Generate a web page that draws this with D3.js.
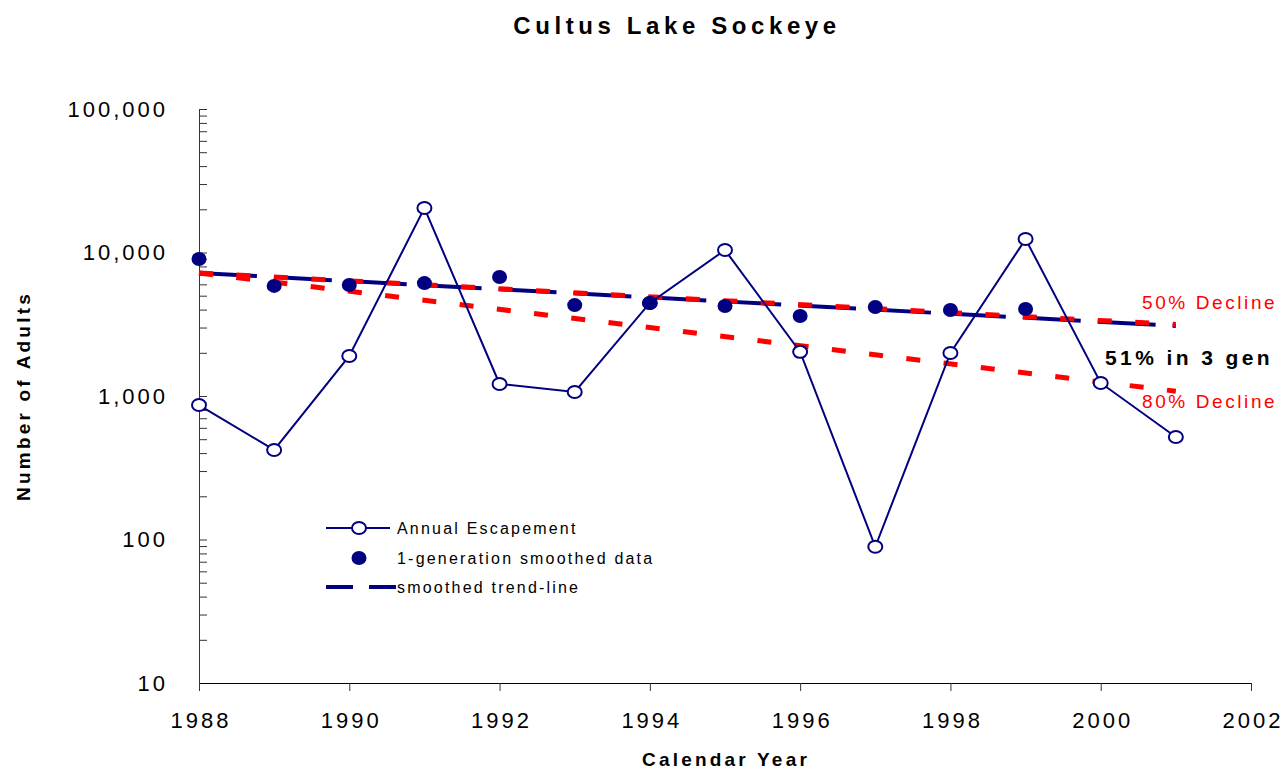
<!DOCTYPE html>
<html>
<head>
<meta charset="utf-8">
<script src="https://cdn.jsdelivr.net/npm/d3@7"></script>
<style>
  body { margin: 0; background: #fff; }
  text { font-family: 'Liberation Sans', Arial, sans-serif; }
</style>
</head>
<body>
<script>
// chart data
var years = [1988, 1989, 1990, 1991, 1992, 1993, 1994, 1995, 1996, 1997, 1998, 1999, 2000, 2001];
var escapement = [865, 421, 1900, 20400, 1213, 1066, 4450, 10400, 2030, 89, 1995, 12400, 1233, 518];
var smoothedYears = [1988, 1989, 1990, 1991, 1992, 1993, 1994, 1995, 1996, 1997, 1998, 1999];
var smoothed = [9020, 5850, 5940, 6120, 6750, 4300, 4450, 4240, 3610, 4170, 3970, 4040];
var trendYears = [1988, 2001];
var trendValues = [7200, 3080];
var decline50 = [7200, 3150];
var decline80 = [7200, 1080];
var xTicks = [1988, 1990, 1992, 1994, 1996, 1998, 2000, 2002];
var yMajor = [10, 100, 1000, 10000, 100000];
var legendLabels = ['Annual Escapement', '1-generation smoothed data', 'smoothed trend-line'];

var W = 1288, H = 771;
var plotLeft = 199, plotRight = 1251, plotTop = 109, plotBottom = 683;
var navy = '#000080', red = '#ff0000';

var svg = d3.select('body').append('svg').attr('width', W).attr('height', H);

var x = d3.scaleLinear().domain([1988, 2002]).range([plotLeft, plotRight]);
var y = d3.scaleLog().domain([10, 100000]).range([plotBottom, plotTop]);

// all log ticks, labels only on decades
var yTicks = [];
yMajor.forEach(function(d){
	if(d == 100000){ yTicks.push(d); return; }
	for(var k = 1; k < 10; k++) yTicks.push(d * k);
});

var yAxis = d3.axisLeft(y)
	.tickValues(yTicks)
	.tickSizeInner(-8)
	.tickSizeOuter(0)
	.tickPadding(31)
	.tickFormat(function(d){ return yMajor.indexOf(d) >= 0 ? d3.format(',')(d) : ''; });

var gy = svg.append('g').attr('transform', 'translate(' + plotLeft + ',0)').call(yAxis);
gy.select('.domain').attr('stroke', '#333');
gy.selectAll('.tick line').attr('stroke', '#333');
gy.selectAll('text').attr('font-size', '22px').attr('letter-spacing', '3px').attr('fill', '#000')
	.style('font-family', "'Liberation Sans', Arial, sans-serif");

var xAxis = d3.axisBottom(x)
	.tickValues(xTicks)
	.tickSizeInner(8)
	.tickSizeOuter(0)
	.tickPadding(21)
	.tickFormat(d3.format('d'));

var gx = svg.append('g').attr('transform', 'translate(0,' + plotBottom + ')').call(xAxis);
gx.select('.domain').attr('stroke', '#000');
gx.selectAll('.tick line').attr('stroke', '#333');
gx.selectAll('text').attr('font-size', '22px').attr('letter-spacing', '3px').attr('dx', '1.5px').attr('fill', '#000')
	.style('font-family', "'Liberation Sans', Arial, sans-serif");

// trend and decline lines
var line2 = d3.line()
	.x(function(d){ return x(d[0]); })
	.y(function(d){ return y(d[1]); });

svg.append('path')
	.datum(d3.zip(trendYears, trendValues))
	.attr('d', line2)
	.attr('fill', 'none').attr('stroke', navy).attr('stroke-width', 4)
	.attr('stroke-dasharray', '58,17');

[decline50, decline80].forEach(function(vals){
	svg.append('path')
		.datum(d3.zip(trendYears, vals))
		.attr('d', line2)
		.attr('fill', 'none').attr('stroke', red).attr('stroke-width', 5)
		.attr('stroke-dasharray', '14,23.5');
});

// annual escapement
svg.append('path')
	.datum(d3.zip(years, escapement))
	.attr('d', line2)
	.attr('fill', 'none').attr('stroke', navy).attr('stroke-width', 2);

svg.append('g').selectAll('ellipse')
	.data(d3.zip(years, escapement))
	.enter()
	.append('ellipse')
	.attr('cx', function(d){ return x(d[0]); })
	.attr('cy', function(d){ return y(d[1]); })
	.attr('rx', 7).attr('ry', 6)
	.attr('fill', '#fff').attr('stroke', navy).attr('stroke-width', 2);

// smoothed data
svg.append('g').selectAll('ellipse')
	.data(d3.zip(smoothedYears, smoothed))
	.enter()
	.append('ellipse')
	.attr('cx', function(d){ return x(d[0]); })
	.attr('cy', function(d){ return y(d[1]); })
	.attr('rx', 7.5).attr('ry', 7)
	.attr('fill', navy);

// legend
var lg = svg.append('g').attr('transform', 'translate(326,528)');
lg.append('line').attr('x1', 0).attr('x2', 64).attr('y1', 0).attr('y2', 0)
	.attr('stroke', navy).attr('stroke-width', 2);
lg.append('ellipse').attr('cx', 33).attr('cy', 0).attr('rx', 7).attr('ry', 6)
	.attr('fill', '#fff').attr('stroke', navy).attr('stroke-width', 2);
lg.append('ellipse').attr('cx', 33).attr('cy', 30).attr('rx', 7.5).attr('ry', 7).attr('fill', navy);
lg.append('line').attr('x1', 0).attr('x2', 70).attr('y1', 59).attr('y2', 59)
	.attr('stroke', navy).attr('stroke-width', 4).attr('stroke-dasharray', '27,16');
lg.selectAll('.lbl')
	.data(legendLabels)
	.enter()
	.append('text')
	.attr('class', 'lbl')
	.attr('x', 71)
	.attr('y', function(d, i){ return i * 29.5 + 6; })
	.attr('font-size', '16px')
	.attr('letter-spacing', '2.2px')
	.text(function(d){ return d; });

// annotations
svg.append('text').attr('x', 1142).attr('y', 309).attr('font-size', '19px').attr('letter-spacing', '2.6px')
	.attr('fill', red).text('50% Decline');
svg.append('text').attr('x', 1105).attr('y', 365).attr('font-size', '21px').attr('font-weight', 'bold')
	.attr('letter-spacing', '3.4px').attr('fill', '#000').text('51% in 3 gen');
svg.append('text').attr('x', 1142).attr('y', 408).attr('font-size', '19px').attr('letter-spacing', '2.6px')
	.attr('fill', red).text('80% Decline');

// titles
svg.append('text').attr('x', 677).attr('y', 34).attr('text-anchor', 'middle')
	.attr('font-size', '24px').attr('font-weight', 'bold').attr('letter-spacing', '4.6px')
	.text('Cultus Lake Sockeye');
svg.append('text').attr('x', 726).attr('y', 766).attr('text-anchor', 'middle')
	.attr('font-size', '19px').attr('font-weight', 'bold').attr('letter-spacing', '3.2px')
	.text('Calendar Year');
svg.append('text').attr('transform', 'translate(30,' + 396 + ') rotate(-90)').attr('text-anchor', 'middle')
	.attr('font-size', '19px').attr('font-weight', 'bold').attr('letter-spacing', '3.2px')
	.text('Number of Adults');
</script>
</body>
</html>
